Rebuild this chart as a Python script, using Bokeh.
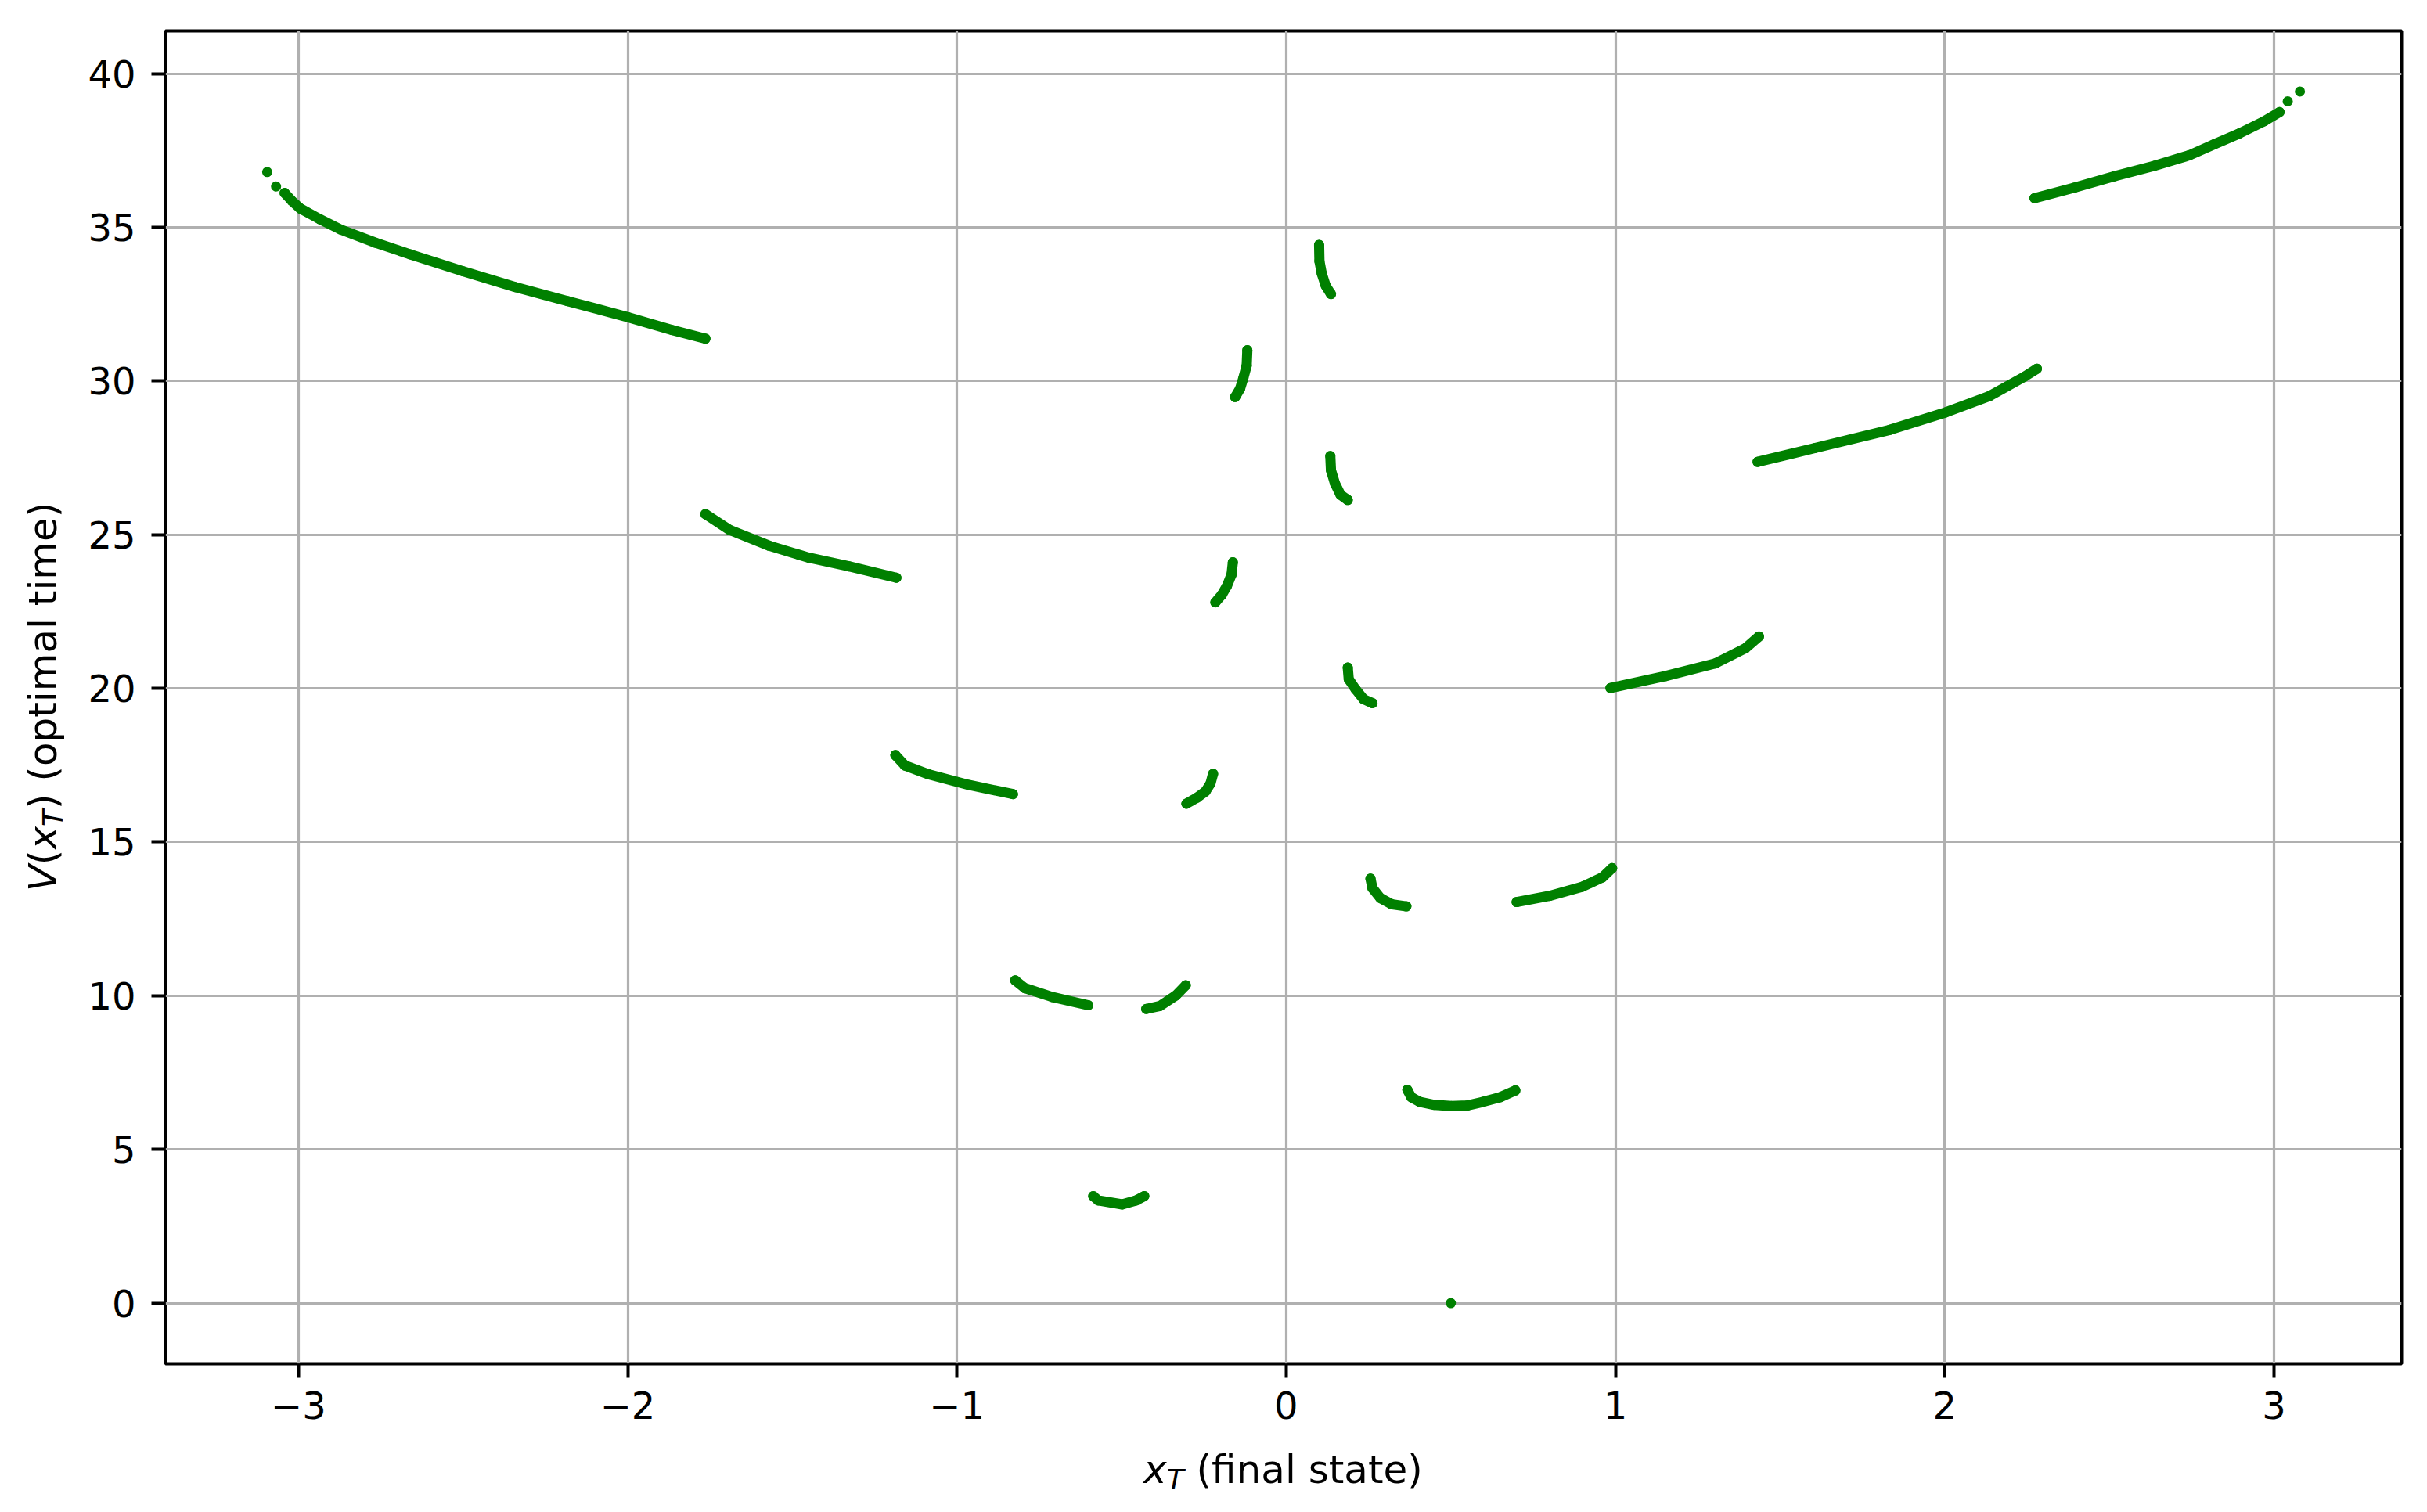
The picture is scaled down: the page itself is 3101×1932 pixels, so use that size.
from bokeh.plotting import figure
from bokeh.models import Range1d, FixedTicker, Div
from bokeh.layouts import row, column
from bokeh.embed import file_html
from bokeh.resources import INLINE

# ---------------- data (x_T, V(x_T)) ----------------
arc01_x = [-3.042, -3.020, -2.994, -2.936, -2.872, -2.766, -2.660, -2.500, -2.342, -2.183, -2.000, -1.865, -1.764]
arc01_y = [36.12, 35.86, 35.61, 35.27, 34.93, 34.50, 34.12, 33.57, 33.06, 32.60, 32.08, 31.66, 31.38]
arc02_x = [-1.764, -1.691, -1.570, -1.449, -1.328, -1.184]
arc02_y = [25.67, 25.16, 24.64, 24.25, 23.97, 23.60]
arc03_x = [-1.187, -1.158, -1.085, -0.964, -0.830]
arc03_y = [17.83, 17.49, 17.20, 16.86, 16.56]
arc04_x = [-0.823, -0.794, -0.711, -0.601]
arc04_y = [10.50, 10.25, 9.96, 9.69]
arc05_x = [-0.586, -0.571, -0.498, -0.456, -0.431]
arc05_y = [3.48, 3.34, 3.21, 3.34, 3.48]
arc06_x = [-0.425, -0.383, -0.335, -0.305]
arc06_y = [9.57, 9.67, 10.01, 10.34]
arc07_x = [-0.303, -0.270, -0.245, -0.230, -0.222]
arc07_y = [16.25, 16.45, 16.65, 16.90, 17.22]
arc08_x = [-0.215, -0.195, -0.180, -0.166, -0.162]
arc08_y = [22.80, 23.05, 23.33, 23.70, 24.10]
arc09_x = [-0.155, -0.140, -0.130, -0.120, -0.118]
arc09_y = [29.48, 29.75, 30.10, 30.50, 31.00]
arc10_x = [0.100, 0.101, 0.108, 0.120, 0.136]
arc10_y = [34.43, 33.90, 33.50, 33.10, 32.83]
arc11_x = [0.134, 0.136, 0.148, 0.165, 0.187]
arc11_y = [27.56, 27.10, 26.67, 26.30, 26.13]
arc12_x = [0.187, 0.190, 0.211, 0.235, 0.262]
arc12_y = [20.68, 20.30, 19.97, 19.65, 19.52]
arc13_x = [0.256, 0.262, 0.286, 0.320, 0.365]
arc13_y = [13.81, 13.50, 13.18, 12.98, 12.91]
arc14_x = [0.368, 0.380, 0.405, 0.450, 0.502, 0.550, 0.599, 0.650, 0.696]
arc14_y = [6.94, 6.70, 6.55, 6.45, 6.41, 6.43, 6.55, 6.70, 6.92]
arc15_x = [0.700, 0.800, 0.900, 0.960, 0.990]
arc15_y = [13.05, 13.25, 13.55, 13.85, 14.15]
arc16_x = [0.985, 1.152, 1.303, 1.394, 1.436]
arc16_y = [20.01, 20.40, 20.81, 21.30, 21.69]
arc17_x = [1.432, 1.606, 1.833, 2.003, 2.136, 2.242, 2.280]
arc17_y = [27.37, 27.82, 28.41, 28.98, 29.51, 30.14, 30.40]
arc18_x = [2.273, 2.394, 2.515, 2.636, 2.742, 2.818, 2.894, 2.970, 3.017]
arc18_y = [35.95, 36.29, 36.66, 37.00, 37.34, 37.70, 38.05, 38.45, 38.75]
# sparse single points (ends of the outer branches, and the origin point)
single_x = [-3.095, -3.068, 3.042, 3.079, 0.500]
single_y = [36.80, 36.33, 39.10, 39.42, 0.00]

x_ticks = [-3, -2, -1, 0, 1, 2, 3]
y_ticks = [0, 5, 10, 15, 20, 25, 30, 35, 40]

arcs = [
    (arc01_x, arc01_y), (arc02_x, arc02_y), (arc03_x, arc03_y), (arc04_x, arc04_y),
    (arc05_x, arc05_y), (arc06_x, arc06_y), (arc07_x, arc07_y), (arc08_x, arc08_y),
    (arc09_x, arc09_y), (arc10_x, arc10_y), (arc11_x, arc11_y), (arc12_x, arc12_y),
    (arc13_x, arc13_y), (arc14_x, arc14_y), (arc15_x, arc15_y), (arc16_x, arc16_y),
    (arc17_x, arc17_y), (arc18_x, arc18_y),
]

# ---------------- ranges like matplotlib autoscale (5 % margins) ----------------
all_x = [v for xs, _ in arcs for v in xs] + single_x
all_y = [v for _, ys in arcs for v in ys] + single_y
mx = 0.05 * (max(all_x) - min(all_x))
my = 0.05 * (max(all_y) - min(all_y))
X0, X1 = min(all_x) - mx, max(all_x) + mx
Y0, Y1 = min(all_y) - my, max(all_y) + my

GREEN = "#008000"
FONT = "DejaVu Sans"

# ---------------- layout (pixels) ----------------
YLAB_W = 100                 # column holding the rotated y title
XLAB_H = 74                  # strip holding the x title
PW, PH = 2993, 1850          # figure canvas
BL, BR, BT, BB = 111, 25, 39, 108
FW, FH = PW - BL - BR, PH - BT - BB   # plot frame 2857 x 1703

p = figure(
    width=PW, height=PH, output_backend="svg", toolbar_location=None,
    x_range=Range1d(X0, X1), y_range=Range1d(Y0, Y1),
    min_border_left=BL, min_border_right=BR, min_border_top=BT, min_border_bottom=BB,
    background_fill_color="white", border_fill_color="white",
)

p.outline_line_color = "black"
p.outline_line_width = 4
p.outline_line_alpha = 1.0

p.xaxis.ticker = FixedTicker(ticks=x_ticks)
p.yaxis.ticker = FixedTicker(ticks=y_ticks)
p.xaxis.major_label_overrides = {t: (str(t) if t >= 0 else "\u2212" + str(-t)) for t in x_ticks}
p.yaxis.major_label_overrides = {t: str(t) for t in y_ticks}

for ax in (p.xaxis, p.yaxis):
    ax.axis_line_color = None
    ax.major_tick_in = 0
    ax.major_tick_out = 18
    ax.major_tick_line_width = 4
    ax.major_tick_line_color = "black"
    ax.minor_tick_line_color = None
    ax.major_label_text_font = FONT
    ax.major_label_text_font_size = "48px"
    ax.major_label_text_color = "black"
p.xaxis.major_label_standoff = 17
p.yaxis.major_label_standoff = 20

p.grid.grid_line_color = "#b0b0b0"
p.grid.grid_line_width = 3.2

for xs, ys in arcs:
    p.line(xs, ys, line_color=GREEN, line_width=13, line_cap="round", line_join="round")
    p.scatter(xs, ys, marker="circle", size=13, fill_color=GREEN, line_color=None)
p.scatter(single_x, single_y, marker="circle", size=13, fill_color=GREEN, line_color=None)

# ---------------- axis titles as real text (HTML) ----------------
SUB = "font-style:italic;font-size:36px;vertical-align:-8px;line-height:0"
TXT = f"font-family:'{FONT}';font-size:50px;color:black;white-space:nowrap;line-height:56px;"

x_title_html = (
    f'<div style="{TXT}width:{FW}px;margin-left:{BL}px;text-align:center;">'
    f'<i>x</i><span style="{SUB}">T</span> (final state)</div>'
)
y_title_html = (
    f'<div style="position:relative;width:{YLAB_W}px;height:{PH}px;">'
    f'<div style="{TXT}position:absolute;left:27px;top:{BT + FH}px;width:{FH}px;height:56px;'
    f'text-align:center;transform-origin:0 0;transform:rotate(-90deg);">'
    f'<i>V</i>(<i>x</i><span style="{SUB}">T</span>) (optimal time)</div></div>'
)

x_title = Div(text=x_title_html, width=PW, height=XLAB_H, margin=(0, 0, 0, 0))
y_title = Div(text=y_title_html, width=YLAB_W, height=PH, margin=(0, 0, 0, 0))

layout = row(y_title, column(p, x_title, spacing=0), spacing=0)

open("out.html", "w").write(file_html(layout, INLINE))
